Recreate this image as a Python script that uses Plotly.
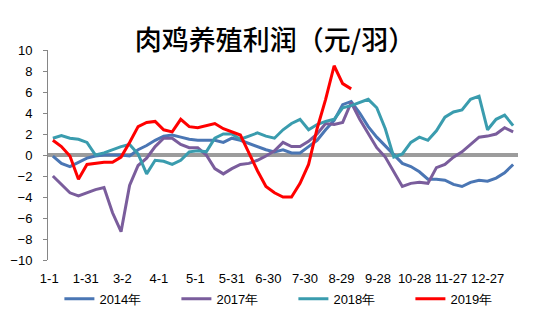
import plotly.graph_objects as go

# Weekly observations: day offset within the year (week k -> day 3 + 7k)
weeks = list(range(55))
days = [3 + 7 * k for k in weeks]

tick_days = [0, 30, 60, 90, 120, 150, 180, 210, 240, 270, 300, 330, 360]
tick_text = ["1-1", "1-31", "3-2", "4-1", "5-1", "5-31", "6-30", "7-30",
             "8-29", "9-28", "10-28", "11-27", "12-27"]

profit_2014 = [-0.1, -0.8, -1.1, -0.7, -0.3, -0.1, 0.0, 0.0, 0.0, -0.1,
               0.5, 0.9, 1.4, 1.8, 1.9, 1.7, 1.5, 1.4, 1.4, 1.4,
               1.2, 1.6, 1.4, 1.1, 0.8, 0.5, 0.3, 0.5, 0.2, 0.2,
               0.8, 1.4, 2.4, 3.3, 4.8, 5.1, 4.0, 2.7, 1.7, 0.9,
               0.1, -0.8, -1.1, -1.6, -2.3, -2.3, -2.4, -2.8, -3.0, -2.6,
               -2.4, -2.5, -2.2, -1.7, -0.9]

profit_2017 = [-2.0, -2.8, -3.6, -3.9, -3.6, -3.3, -3.1, -5.5, -7.3, -2.9,
               -1.0, -0.3, 0.8, 1.6, 1.6, 1.0, 0.7, 0.7, 0.0, -1.3,
               -1.8, -1.3, -0.9, -0.8, -0.5, -0.1, 0.4, 1.2, 0.8, 0.8,
               1.3, 2.0, 3.0, 2.9, 3.1, 5.0, 3.4, 2.0, 0.7, -0.2,
               -1.6, -3.0, -2.7, -2.6, -2.7, -1.2, -0.9, -0.2, 0.3, 1.0,
               1.7, 1.8, 2.0, 2.6, 2.2]

profit_2018 = [1.6, 1.85, 1.6, 1.5, 1.2, 0.0, 0.2, 0.5, 0.8, 1.0,
               0.1, -1.8, -0.5, -0.6, -0.9, -0.5, 0.3, 0.4, 0.3, 1.6,
               2.0, 2.0, 1.5, 1.8, 2.1, 1.8, 1.6, 2.4, 3.0, 3.4,
               2.4, 2.9, 3.2, 3.4, 4.5, 4.7, 5.0, 5.3, 4.5, 2.5,
               -0.2, 0.1, 1.2, 1.7, 1.4, 2.3, 3.6, 4.1, 4.3, 5.3,
               5.6, 2.4, 3.4, 3.8, 2.8]

profit_2019 = [1.4, 0.8, -0.1, -2.3, -0.9, -0.8, -0.7, -0.7, -0.2, 1.2,
               2.7, 3.1, 3.2, 2.4, 2.2, 3.4, 2.7, 2.6, 2.8, 3.0,
               2.5, 2.2, 1.9, 0.2, -1.5, -3.0, -3.6, -4.0, -4.0, -2.7,
               -0.9, 2.5, 5.3, 8.5, 6.8, 6.3]

series = [
    ("2014年", profit_2014, "#4A76B4"),
    ("2017年", profit_2017, "#7A5D9C"),
    ("2018年", profit_2018, "#3A9CAE"),
    ("2019年", profit_2019, "#FF0000"),
]

fig = go.Figure()
for name, vals, color in series:
    fig.add_trace(go.Scatter(
        x=days[:len(vals)], y=vals, name=name, mode="lines",
        line=dict(color=color, width=3),
    ))

# zero reference band
fig.add_hline(y=0, line=dict(color="#9C9C9C", width=4), layer="below")

font_main = "Liberation Sans, Arial, sans-serif"

fig.update_layout(
    width=550, height=323,
    margin=dict(l=48, r=32, t=50, b=63),
    paper_bgcolor="white", plot_bgcolor="white",
    title=dict(
        text="肉鸡养殖利润（元/羽）",
        x=0.5, xanchor="center", y=0.876, yanchor="middle",
        font=dict(family="Noto Sans CJK SC", size=27, color="#000000",
                  weight=500),
    ),
    showlegend=True,
    legend=dict(
        orientation="h", xref="container", x=0.108, xanchor="left",
        yref="container", y=0.075, yanchor="middle",
        bgcolor="rgba(0,0,0,0)",
        font=dict(family=font_main, size=13, color="#000000"),
        itemwidth=30, tracegroupgap=0,
        entrywidth=72, entrywidthmode="pixels",
    ),
    font=dict(family=font_main, size=12, color="#000000"),
)

fig.update_xaxes(
    range=[-1, 385], tickmode="array", tickvals=tick_days, ticktext=tick_text,
    showgrid=False, zeroline=False, showline=False, ticks="",
    ticklabelstandoff=9, tickfont=dict(size=13), automargin=False,
)
fig.update_yaxes(
    range=[-10, 10], tickmode="array", tickvals=list(range(-10, 11, 2)),
    showgrid=False, zeroline=False, showline=True, linecolor="#868686",
    linewidth=1, ticks="outside", ticklen=4, tickcolor="#868686",
    ticklabelstandoff=8, tickfont=dict(size=13), automargin=False,
)

fig.write_html("out.html")
